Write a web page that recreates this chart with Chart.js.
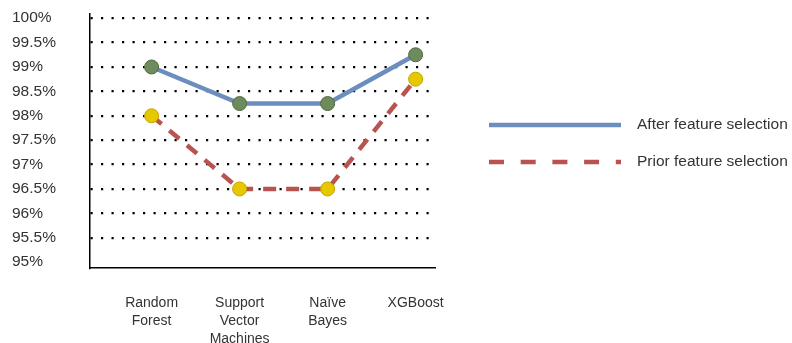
<!DOCTYPE html>
<html>
<head>
<meta charset="utf-8">
<script src="https://cdn.jsdelivr.net/npm/chart.js@4/dist/chart.umd.min.js"></script>
<style>
  html, body { margin: 0; padding: 0; background: #ffffff; }
  #wrap { width: 792px; height: 343px; position: relative; }
</style>
</head>
<body>
<div id="wrap"><canvas id="c" width="792" height="343"></canvas></div>
<script>
// Classifier names (multi-line tick labels)
const categories = [['Random', 'Forest'], ['Support', 'Vector', 'Machines'], ['Naïve', 'Bayes'], ['XGBoost']];
// Accuracy (%) per classifier
const afterSelection = [99, 98.25, 98.25, 99.25];
const priorSelection = [98, 96.5, 96.5, 98.75];
// Y axis tick values (%)
const yTicks = [95, 95.5, 96, 96.5, 97, 97.5, 98, 98.5, 99, 99.5, 100];
const seriesNames = ['After feature selection', 'Prior feature selection'];

const toPoints = arr => arr.map((v, i) => ({ x: i, y: v }));

// Legend drawn at the right of the plot, with long line samples
const sideLegend = {
  id: 'sideLegend',
  afterDraw(chart) {
    const ctx = chart.ctx;
    const rows = [
      { y: 125, ds: chart.data.datasets[0], dash: [] },
      { y: 162, ds: chart.data.datasets[1], dash: [15, 16.7] }
    ];
    ctx.save();
    rows.forEach(r => {
      ctx.beginPath();
      ctx.setLineDash(r.dash);
      ctx.lineWidth = 4.5;
      ctx.strokeStyle = r.ds.borderColor;
      ctx.moveTo(489, r.y);
      ctx.lineTo(621, r.y);
      ctx.stroke();
      ctx.setLineDash([]);
      ctx.fillStyle = '#333333';
      ctx.font = '15.5px "Liberation Sans", Arial, sans-serif';
      ctx.textBaseline = 'middle';
      ctx.textAlign = 'left';
      ctx.fillText(r.ds.label, 637, r.y);
    });
    ctx.restore();
  }
};

new Chart(document.getElementById('c'), {
  type: 'line',
  data: {
    datasets: [
      {
        label: seriesNames[0],
        data: toPoints(afterSelection),
        borderColor: '#6c8ebf',
        borderWidth: 4.5,
        pointRadius: 7,
        pointBorderWidth: 1,
        pointBackgroundColor: '#6d8b5c',
        pointBorderColor: '#4f6b40',
        tension: 0,
        clip: false
      },
      {
        label: seriesNames[1],
        data: toPoints(priorSelection),
        borderColor: '#b85450',
        borderWidth: 4.5,
        borderDash: [13, 10],
        pointRadius: 7,
        pointBorderWidth: 1,
        pointBackgroundColor: '#e6c800',
        pointBorderColor: '#c4a300',
        tension: 0,
        clip: false
      }
    ]
  },
  options: {
    responsive: false,
    animation: false,
    devicePixelRatio: 1,
    layout: { padding: { left: 12, right: 357, top: 9, bottom: 0 } },
    plugins: {
      legend: { display: false },
      tooltip: { enabled: false }
    },
    scales: {
      x: {
        type: 'linear',
        min: -0.7,
        max: 3.22,
        afterBuildTicks: scale => { scale.ticks = categories.map((_, i) => ({ value: i })); },
        afterFit: scale => { scale.height = 75; },
        ticks: {
          callback: v => categories[v],
          color: '#333333',
          font: { family: '"Liberation Sans", Arial, sans-serif', size: 14, lineHeight: 1.3 },
          padding: 26,
          maxRotation: 0,
          autoSkip: false,
          crossAlign: 'near'
        },
        grid: { drawOnChartArea: false, drawTicks: false, color: 'rgba(0,0,0,0)' },
        border: { display: true, color: '#000000', width: 1.5 }
      },
      y: {
        min: 94.88,
        max: 100.1,
        afterBuildTicks: scale => { scale.ticks = yTicks.map(v => ({ value: v })); },
        afterFit: scale => { scale.width = 78; },
        ticks: {
          callback: v => v + '%',
          color: '#333333',
          font: { family: '"Liberation Sans", Arial, sans-serif', size: 15.5 },
          crossAlign: 'far',
          padding: 4
        },
        grid: {
          drawTicks: false,
          lineWidth: 2.2,
          color: c => (c.tick && c.tick.value === 95 ? 'rgba(0,0,0,0)' : '#000000')
        },
        border: { display: true, color: '#000000', width: 1.5, dash: [2.2, 8.3] }
      }
    }
  },
  plugins: [sideLegend]
});
</script>
</body>
</html>
